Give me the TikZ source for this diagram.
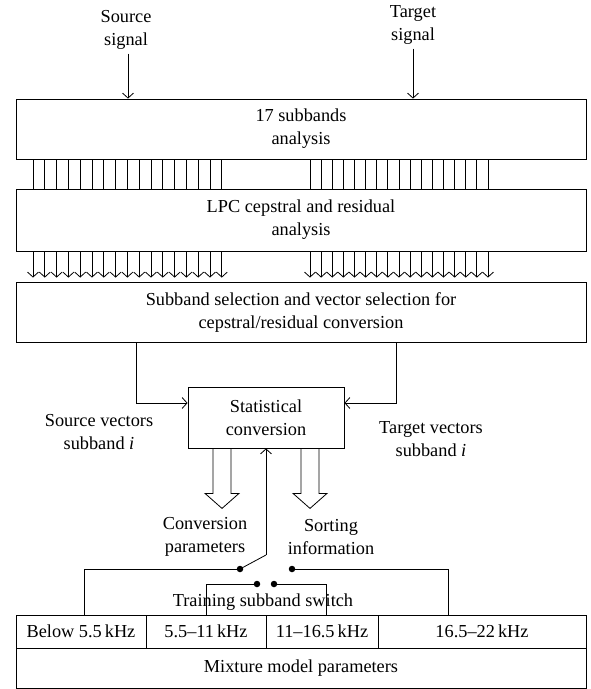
\documentclass[tikz,border=0pt]{standalone}
\usepackage{fontspec}
\setmainfont{Liberation Serif}
\usetikzlibrary{arrows.meta,calc}

\begin{document}
\begin{tikzpicture}[
    x=1pt, y=-1pt,
    block/.style={rectangle, draw, line width=0.8pt, fill=white, inner sep=0pt, align=center, font=\fontsize{18.3}{23}\selectfont},
    lbl/.style={align=center, inner sep=0pt, font=\fontsize{18.3}{23}\selectfont},
    arrow/.style={-{Straight Barb[length=5pt,width=11pt]}, line width=0.8pt},
    wire/.style={line width=0.8pt},
    dot/.style={circle, fill, inner sep=0pt, minimum size=6.5pt}
]
    \useasboundingbox (0,0) rectangle (591,689);

    % Inputs
    \node[lbl] (srcsig) at (126,30) {Source\\signal};
    \node[lbl] (tgtsig) at (413,25) {Target\\signal};

    % Analysis chain
    \node[block, minimum width=570pt, minimum height=60pt] (subbands) at (301,129) {17 subbands\\analysis};
    \node[block, minimum width=570pt, minimum height=62pt] (lpc) at (301,220) {LPC cepstral and residual\\analysis};
    \node[block, minimum width=570pt, minimum height=60pt] (select) at (301,312) {Subband selection and vector selection for\\cepstral/residual conversion};

    \draw[arrow, shorten <=4pt] ([xshift=2pt]srcsig.south) -- ([xshift=2pt]srcsig.south |- subbands.north);
    \draw[arrow, shorten <=4pt] (tgtsig.south) -- (tgtsig.south |- subbands.north);

    % 17 subband outputs per signal
    \foreach \i in {0,...,16} {
        \draw[wire] ({33+11.8*\i},0 |- subbands.south) -- ({33+11.8*\i},0 |- lpc.north);
        \draw[wire] ({310+11.125*\i},0 |- subbands.south) -- ({310+11.125*\i},0 |- lpc.north);
        \draw[arrow, shorten >=4pt] ({33+11.8*\i},0 |- lpc.south) -- ({33+11.8*\i},0 |- select.north);
        \draw[arrow, shorten >=4pt] ({310+11.125*\i},0 |- lpc.south) -- ({310+11.125*\i},0 |- select.north);
    }

    % Conversion
    \node[block, minimum width=156pt, minimum height=61pt] (stat) at (266,417.5) {Statistical\\conversion};
    \draw[arrow] ([xshift=-165pt]select.south) |- ([yshift=14.5pt]stat.west);
    \draw[arrow] ([xshift=95pt]select.south) |- ([yshift=14.5pt]stat.east);
    \node[lbl] (srcvec) at (99,432) {Source vectors\\subband \textit{i}};
    \node[lbl] (tgtvec) at (431,439) {Target vectors\\subband \textit{i}};

    % Hollow output arrows
    \draw[wire] ($(stat.south)+(-53,0)$) -- ++(0,45) -- ++(-8,0) -- ++(17,15) -- ++(17,-15) -- ++(-8,0) -- ++(0,-45);
    \draw[wire] ($(stat.south)+(35,0)$) -- ++(0,45) -- ++(-8,0) -- ++(17,15) -- ++(17,-15) -- ++(-8,0) -- ++(0,-45);
    \node[lbl] (convpar) at (205,537) {Conversion\\parameters};
    \node[lbl] (sortinf) at (331,537) {Sorting\\information};

    % Frequency bands and mixture parameters
    \node[block, minimum width=130pt, minimum height=33pt] (cellA) at (81,631.5) {Below 5.5\,kHz};
    \node[block, minimum width=120pt, minimum height=33pt] (cellB) at (206,631.5) {5.5--11\,kHz};
    \node[block, minimum width=112pt, minimum height=33pt] (cellC) at (322,631.5) {11--16.5\,kHz};
    \node[block, minimum width=208pt, minimum height=33pt] (cellD) at (482,631.5) {16.5--22\,kHz};
    \node[block, minimum width=570pt, minimum height=40pt] (mixture) at (301,668) {Mixture model parameters};

    % Training subband switch
    \coordinate (pivot) at (266,555);
    \node[dot] (dotA) at (240,569) {};
    \node[dot] (dotB) at (257,584) {};
    \node[dot] (dotC) at (274,584) {};
    \node[dot] (dotD) at (292,569) {};
    \draw[wire] (dotA.center) -| ([xshift=3pt]cellA.north);
    \draw[wire] (dotB.center) -| (cellB.north);
    \draw[wire] (dotC.center) -| ([xshift=4pt]cellC.north);
    \draw[wire] (dotD.center) -| ([xshift=-34pt]cellD.north);
    \draw[wire] (dotA.center) -- (pivot);
    \draw[arrow] (pivot) -- (stat.south);
    \node[lbl] (switch) at (263,602) {Training subband switch};
\end{tikzpicture}
\end{document}
